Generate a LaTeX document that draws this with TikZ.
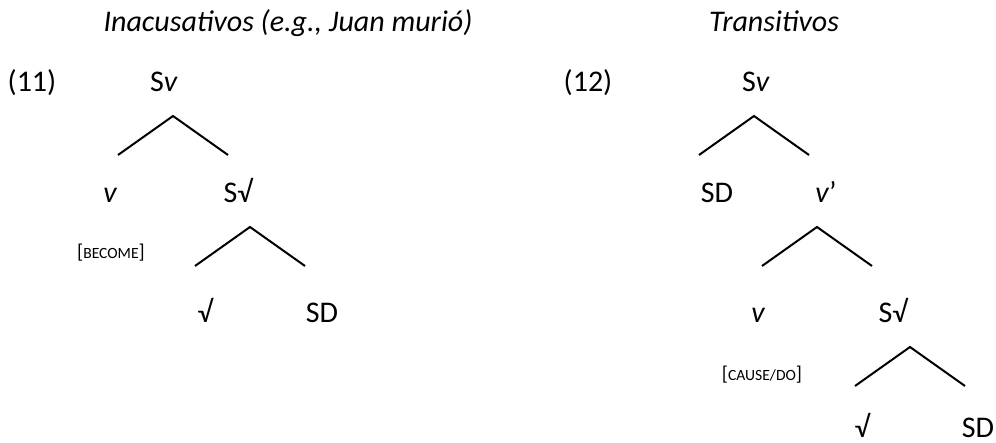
\documentclass[tikz,border=0pt]{standalone}
\usepackage{fontspec}
\setmainfont{Carlito}
\usepackage{tikz}
\usetikzlibrary{positioning}

\newcommand{\featlabel}[1]{{\fontsize{10}{10}\selectfont[}{\fontsize{7.8}{9}\selectfont #1}{\fontsize{10}{10}\selectfont]}}

\begin{document}
\begin{tikzpicture}[x=0.5pt, y=-0.5pt, line width=1pt,
    lbl/.style={anchor=base, inner sep=0pt, font=\fontsize{15}{17}\selectfont},
    feat/.style={anchor=base, inner sep=0pt}]
    \useasboundingbox (0,0) rectangle (996,443);

    \node[lbl] (titleA) at (288,32) {\itshape Inacusativos (e.g., Juan murió)};
    \node[lbl] (titleB) at (774,32) {\itshape Transitivos};

    % (11) inacusativo
    \node[lbl] (numA) at (32,92) {(11)};
    \node[lbl] (SvA) at (164,92) {S\textit{v}};
    \node[lbl] (vA) at (110,203) {\itshape v};
    \node[lbl] (SrootA) at (238,203) {S√};
    \node[feat] (becomeA) at (111,259) {\featlabel{BECOME}};
    \node[lbl] (rootA) at (205,322) {√};
    \node[lbl] (SDA) at (322,322) {SD};

    % (12) transitivo
    \node[lbl] (numB) at (588,92) {(12)};
    \node[lbl] (SvB) at (756,92) {S\textit{v}};
    \node[lbl] (SDB) at (717,203) {SD};
    \node[lbl] (vbarB) at (826,203) {\textit{v}’};
    \node[lbl] (vB) at (758,322) {\itshape v};
    \node[lbl] (SrootB) at (893,322) {S√};
    \node[feat] (causeB) at (762,380) {\featlabel{CAUSE/DO}};
    \node[lbl] (rootB) at (862,437) {√};
    \node[lbl] (SDB2) at (978,437) {SD};

    \foreach \n/\x/\y in {A1/173/116, A2/250/227, B1/754/116, B2/817/227, B3/910/347} {
        \coordinate (top\n) at (\x,\y);
        \coordinate (left\n) at (\x-55,\y+39);
        \coordinate (right\n) at (\x+55,\y+39);
        \draw (left\n) -- (top\n) -- (right\n);
    }
\end{tikzpicture}
\end{document}
